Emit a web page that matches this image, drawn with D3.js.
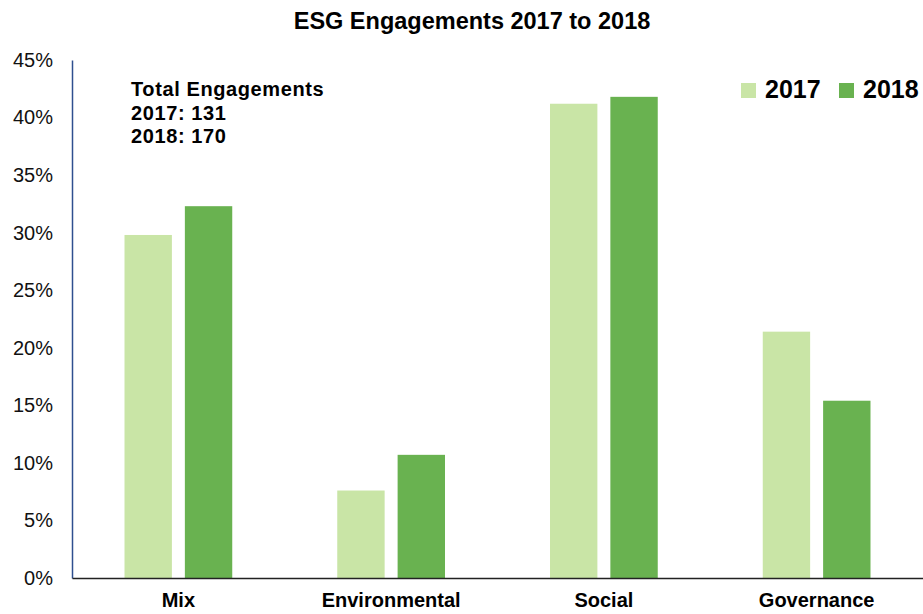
<!DOCTYPE html>
<html>
<head>
<meta charset="utf-8">
<script src="https://cdn.jsdelivr.net/npm/d3@7"></script>
<style>
  body { margin: 0; background: #fff; }
  svg text { font-family: "Liberation Sans", Arial, sans-serif; }
</style>
</head>
<body>
<div id="chart"></div>
<script>
// data
const categories = ["Mix", "Environmental", "Social", "Governance"];
const years = ["2017", "2018"];
const values2017 = [29.8, 7.6, 41.2, 21.4];
const values2018 = [32.3, 10.7, 41.8, 15.4];
const yTicks = [0, 5, 10, 15, 20, 25, 30, 35, 40, 45];
const noteLines = ["Total Engagements", "2017: 131", "2018: 170"];

const W = 923, H = 614;
const margin = { top: 60, right: 0, bottom: 36, left: 72 };
const colours = { "2017": "#c9e5a6", "2018": "#69b250" };
const fontStack = "'Liberation Sans', Arial, sans-serif";

const svg = d3.select("#chart").append("svg")
  .attr("width", W).attr("height", H);

const x = d3.scaleBand()
  .domain(categories)
  .range([margin.left, W - margin.right]);

const xInner = d3.scaleBand()
  .domain(years)
  .range([0, x.bandwidth()])
  .paddingInner(0.215)
  .paddingOuter(0.87);

const y = d3.scaleLinear()
  .domain([0, 45])
  .range([H - margin.bottom, margin.top]);

// title
svg.append("text")
  .attr("x", 472).attr("y", 29)
  .attr("text-anchor", "middle")
  .attr("font-size", 23.5).attr("font-weight", "bold")
  .text("ESG Engagements 2017 to 2018");

// bars
const rows = categories.map((c, i) => ({ cat: c, "2017": values2017[i], "2018": values2018[i] }));
const groups = svg.selectAll(".grp").data(rows).join("g")
  .attr("class", "grp")
  .attr("transform", d => "translate(" + x(d.cat) + ",0)");

groups.selectAll("rect")
  .data(d => years.map(yr => ({ yr: yr, v: d[yr] })))
  .join("rect")
  .attr("x", d => xInner(d.yr))
  .attr("width", xInner.bandwidth())
  .attr("y", d => y(d.v))
  .attr("height", d => y(0) - y(d.v))
  .attr("fill", d => colours[d.yr]);

// y axis
const yAxis = svg.append("g")
  .attr("transform", "translate(" + margin.left + ",0)")
  .call(d3.axisLeft(y).tickValues(yTicks).tickSize(0).tickPadding(19).tickFormat(d => d + "%"));
yAxis.select(".domain").attr("stroke", "#2f4f8f").attr("stroke-width", 1.5);
yAxis.selectAll("text").attr("font-size", 20).attr("fill", "#111")
  .style("font-family", fontStack);

// x axis
const xAxis = svg.append("g")
  .attr("transform", "translate(0," + y(0) + ")")
  .call(d3.axisBottom(x).tickSize(0).tickPadding(15));
xAxis.select(".domain").attr("stroke", "#222").attr("stroke-width", 1.5);
xAxis.selectAll("text").attr("font-size", 20).attr("font-weight", "bold").attr("fill", "#000")
  .style("font-family", fontStack);

// note
svg.append("g").selectAll("text").data(noteLines).join("text")
  .attr("x", 131)
  .attr("y", (d, i) => 96 + i * 23.5)
  .attr("font-size", 20).attr("font-weight", "bold")
  .attr("letter-spacing", 0.6)
  .text(d => d);

// legend
const legendX = [741, 839];
const legend = svg.append("g").selectAll("g").data(years).join("g")
  .attr("transform", (d, i) => "translate(" + legendX[i] + ",83)");
legend.append("rect")
  .attr("width", 15).attr("height", 15)
  .attr("fill", d => colours[d]);
legend.append("text")
  .attr("x", 24).attr("y", 15)
  .attr("font-size", 25).attr("font-weight", "bold")
  .style("font-family", fontStack)
  .text(d => d);
</script>
</body>
</html>
